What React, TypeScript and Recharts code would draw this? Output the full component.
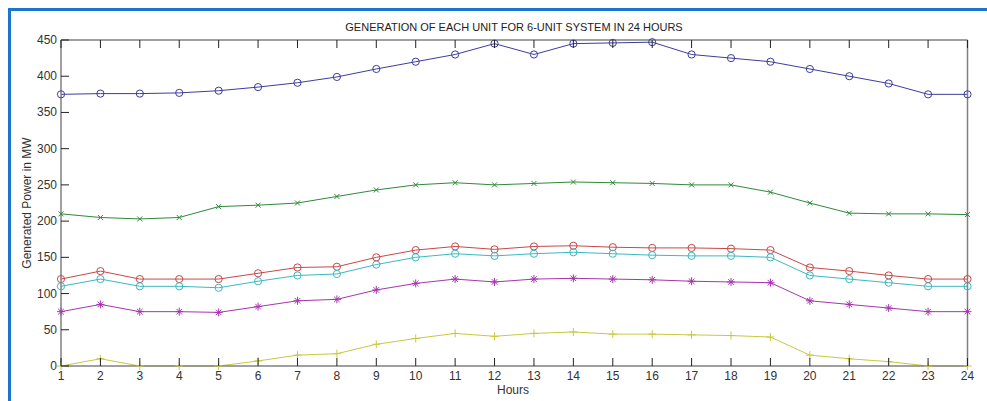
import React from 'react';
import { LineChart, Line, XAxis, YAxis } from 'recharts';

const hours = [1, 2, 3, 4, 5, 6, 7, 8, 9, 10, 11, 12, 13, 14, 15, 16, 17, 18, 19, 20, 21, 22, 23, 24];
const unit1 = [375, 376, 376, 377, 380, 385, 391, 399, 410, 420, 430, 445, 430, 445, 446, 447, 430, 425, 420, 410, 400, 390, 375, 375];
const unit2 = [210, 205, 203, 205, 220, 222, 225, 234, 243, 250, 253, 250, 252, 254, 253, 252, 250, 250, 240, 225, 211, 210, 210, 209];
const unit3 = [120, 131, 120, 120, 120, 128, 136, 137, 150, 160, 165, 161, 165, 166, 164, 163, 163, 162, 160, 136, 131, 125, 120, 120];
const unit4 = [110, 120, 110, 110, 108, 117, 125, 127, 140, 150, 155, 152, 155, 157, 155, 153, 152, 152, 150, 125, 120, 115, 110, 110];
const unit5 = [75, 85, 75, 75, 74, 82, 90, 92, 105, 114, 120, 116, 120, 121, 120, 119, 117, 116, 115, 90, 85, 80, 75, 75];
const unit6 = [0, 10, 0, 0, 0, 7, 15, 17, 30, 38, 45, 41, 45, 47, 44, 44, 43, 42, 40, 15, 10, 6, 0, 0];
const yTicks = [0, 50, 100, 150, 200, 250, 300, 350, 400, 450];

const FONT = '"Liberation Sans", Arial, sans-serif';
const AXIS = '#808080';
const TICK = '#222';

const data = hours.map((h, i) => ({
  hour: h,
  u1: unit1[i],
  u2: unit2[i],
  u3: unit3[i],
  u4: unit4[i],
  u5: unit5[i],
  u6: unit6[i],
}));

const marker = (shape: string, color: string) => (props: any) => {
  const { cx, cy, index } = props;
  const k = `${shape}-${color}-${index}`;
  if (cx == null || cy == null) return <g key={k} />;
  if (shape === 'o') {
    return <circle key={k} cx={cx} cy={cy} r={3.6} fill="none" stroke={color} strokeWidth={1} />;
  }
  if (shape === 'x') {
    const s = 2.5;
    return (
      <g key={k} stroke={color} strokeWidth={1}>
        <line x1={cx - s} y1={cy - s} x2={cx + s} y2={cy + s} />
        <line x1={cx - s} y1={cy + s} x2={cx + s} y2={cy - s} />
      </g>
    );
  }
  if (shape === '*') {
    const s = 4;
    const d = 2.8;
    return (
      <g key={k} stroke={color} strokeWidth={1}>
        <line x1={cx - s} y1={cy} x2={cx + s} y2={cy} />
        <line x1={cx} y1={cy - s} x2={cx} y2={cy + s} />
        <line x1={cx - d} y1={cy - d} x2={cx + d} y2={cy + d} />
        <line x1={cx - d} y1={cy + d} x2={cx + d} y2={cy - d} />
      </g>
    );
  }
  const s = 4;
  return (
    <g key={k} stroke={color} strokeWidth={1}>
      <line x1={cx - s} y1={cy} x2={cx + s} y2={cy} />
      <line x1={cx} y1={cy - s} x2={cx} y2={cy + s} />
    </g>
  );
};

// inward ticks (MATLAB style), labels outside
const BottomTick = (props: any) => {
  const { x, y, payload } = props;
  return (
    <g>
      <line x1={x} y1={y} x2={x} y2={y - 8} stroke={TICK} strokeWidth={1} />
      <text x={x} y={y + 14} textAnchor="middle" fontSize={12} fill="#333" fontFamily={FONT}>
        {payload.value}
      </text>
    </g>
  );
};

const TopTick = (props: any) => {
  const { x, y } = props;
  return <line x1={x} y1={y} x2={x} y2={y + 8} stroke={TICK} strokeWidth={1} />;
};

const LeftTick = (props: any) => {
  const { x, y, payload } = props;
  return (
    <g>
      <line x1={x} y1={y} x2={x + 8} y2={y} stroke={TICK} strokeWidth={1} />
      <text x={x - 4} y={y + 4} textAnchor="end" fontSize={12} fill="#333" fontFamily={FONT}>
        {payload.value}
      </text>
    </g>
  );
};

const RightTick = (props: any) => {
  const { x, y } = props;
  return <line x1={x} y1={y} x2={x - 8} y2={y} stroke={TICK} strokeWidth={1} />;
};

const series = [
  { key: 'u1', color: '#3d3d9c', shape: 'o' },
  { key: 'u2', color: '#2f8a3a', shape: 'x' },
  { key: 'u3', color: '#c84848', shape: 'o' },
  { key: 'u4', color: '#3cb8c0', shape: 'o' },
  { key: 'u5', color: '#a536ad', shape: '*' },
  { key: 'u6', color: '#c8c840', shape: '+' },
];

export default function App() {
  return (
    <div style={{ position: 'absolute', left: 0, top: 0, width: 987, height: 401, background: '#fff', overflow: 'hidden' }}>
      <div
        style={{
          position: 'absolute',
          left: 8,
          top: 8,
          right: 0,
          bottom: 0,
          borderLeft: '3px solid #1a75cf',
          borderTop: '3px solid #1a75cf',
        }}
      />
      <div style={{ position: 'absolute', left: 0, top: 0 }}>
        <LineChart width={987} height={401} data={data} margin={{ top: 10, right: 10, bottom: 0, left: 8 }}>
          <text x={514} y={31} textAnchor="middle" fontSize={11} fill="#222" fontFamily={FONT}>
            GENERATION OF EACH UNIT FOR 6-UNIT SYSTEM IN 24 HOURS
          </text>
          <text x={513} y={394} textAnchor="middle" fontSize={12} fill="#333" fontFamily={FONT}>
            Hours
          </text>
          <text
            x={31}
            y={203}
            textAnchor="middle"
            fontSize={12}
            fill="#333"
            fontFamily={FONT}
            transform="rotate(-90 31 203)"
          >
            Generated Power in MW
          </text>
          <XAxis
            dataKey="hour"
            type="number"
            domain={[1, 24]}
            ticks={hours}
            height={35}
            tickSize={0}
            tickMargin={0}
            interval={0}
            tick={<BottomTick />}
            tickLine={false}
            axisLine={{ stroke: AXIS, strokeWidth: 1.5 }}
          />
          <XAxis
            xAxisId="top"
            orientation="top"
            dataKey="hour"
            type="number"
            domain={[1, 24]}
            ticks={hours}
            height={30}
            tickSize={0}
            tickMargin={0}
            interval={0}
            tick={<TopTick />}
            tickLine={false}
            axisLine={{ stroke: AXIS, strokeWidth: 1.5 }}
          />
          <YAxis
            type="number"
            domain={[0, 450]}
            ticks={yTicks}
            width={53}
            tickSize={0}
            tickMargin={0}
            interval={0}
            tick={<LeftTick />}
            tickLine={false}
            axisLine={{ stroke: AXIS, strokeWidth: 1.5 }}
          />
          <YAxis
            yAxisId="right"
            orientation="right"
            type="number"
            domain={[0, 450]}
            ticks={yTicks}
            width={9.5}
            tickSize={0}
            tickMargin={0}
            interval={0}
            tick={<RightTick />}
            tickLine={false}
            axisLine={{ stroke: AXIS, strokeWidth: 1.5 }}
          />
          {series.map((s) => (
            <Line
              key={s.key}
              type="linear"
              dataKey={s.key}
              stroke={s.color}
              strokeWidth={1}
              dot={marker(s.shape, s.color)}
              activeDot={false}
              isAnimationActive={false}
            />
          ))}
        </LineChart>
      </div>
    </div>
  );
}
